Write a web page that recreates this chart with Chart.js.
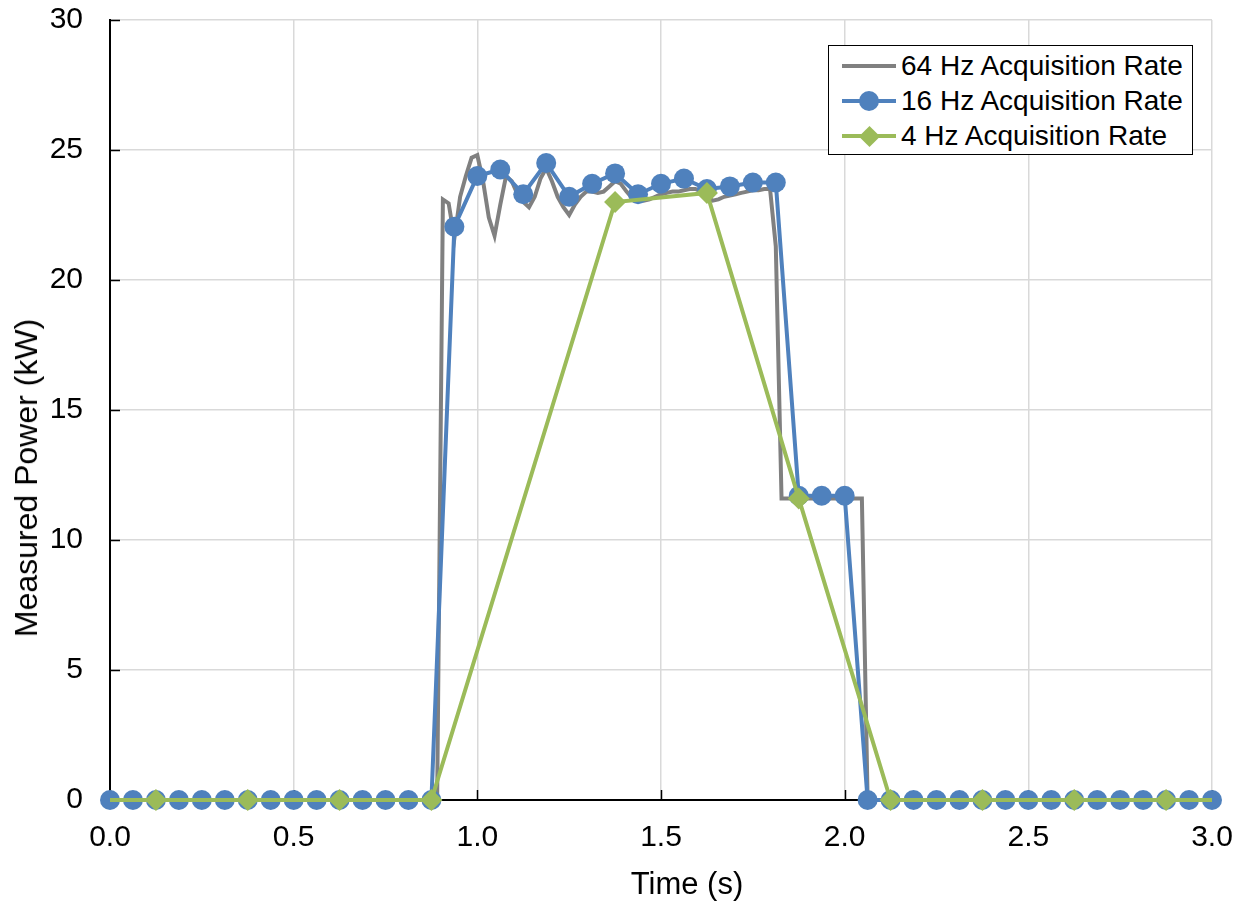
<!DOCTYPE html>
<html>
<head>
<meta charset="utf-8">
<script src="https://cdn.jsdelivr.net/npm/chart.js@4.4.1/dist/chart.umd.min.js"></script>
<style>
  html, body { margin: 0; padding: 0; background: #fff; }
  #wrap { position: relative; width: 1244px; height: 904px; font-family: 'Liberation Sans', Arial, sans-serif; color: #000; }
  canvas { display: block; }
  #legend {
    position: absolute; left: 828px; top: 45px; width: 363px; height: 108px;
    border: 1.5px solid #000; background: #fff; font-size: 28px;
  }
  .row { position: absolute; left: 0; height: 32px; width: 100%; }
  .row .ln { position: absolute; left: 13px; width: 54px; height: 4px; top: 14px; }
  .row .mk { position: absolute; }
  .row .tx { position: absolute; left: 72px; top: 0; line-height: 32px; white-space: nowrap; }
  .axtitle { position: absolute; font-size: 31px; white-space: nowrap; line-height: 34px; }
  #xtitle { left: 687px; top: 867px; transform: translateX(-50%); }
  #ytitle { left: 26px; top: 478px; font-size: 32px; transform: translate(-50%, -50%) rotate(-90deg); }
</style>
</head>
<body>
<div id="wrap">
  <canvas id="c" width="1244" height="904"></canvas>
  <div id="xtitle" class="axtitle">Time (s)</div>
  <div id="ytitle" class="axtitle">Measured Power (kW)</div>
  <div id="legend">
    <div class="row" style="top:4px"><div class="ln" style="background:#808080"></div><div class="tx">64 Hz Acquisition Rate</div></div>
    <div class="row" style="top:39px"><div class="ln" style="background:#4f81bd"></div>
      <div class="mk" style="left:30px;top:6px;width:20px;height:20px;border-radius:50%;background:#4f81bd"></div>
      <div class="tx">16 Hz Acquisition Rate</div></div>
    <div class="row" style="top:74px"><div class="ln" style="background:#9bbb59"></div>
      <div class="mk" style="left:33px;top:9px;width:15px;height:15px;transform:rotate(45deg);background:#9bbb59"></div>
      <div class="tx">4 Hz Acquisition Rate</div></div>
  </div>
</div>
<script>
// ---- Data ----
const seriesNames = ['64 Hz Acquisition Rate', '16 Hz Acquisition Rate', '4 Hz Acquisition Rate'];
const xTickLabels = ['0.0', '0.5', '1.0', '1.5', '2.0', '2.5', '3.0'];
const yTickLabels = ['0', '5', '10', '15', '20', '25', '30'];

// 64 Hz: samples from t = 0.875 s (1/64 s spacing); before and after are zero
const t64Start = 0.875;
const power64 = [
  0, 0, 23.1, 22.95, 21.6, 23.2, 24.0, 24.7, 24.8, 23.8, 22.4, 21.7,
  22.9, 24.0, 23.8, 23.3, 23.0, 22.8, 23.2, 23.9, 24.3, 23.8, 23.2, 22.8,
  22.5, 22.9, 23.2, 23.4, 23.4, 23.35, 23.4, 23.6, 23.8, 23.7, 23.4, 23.15,
  23.1, 23.05, 23.1, 23.2, 23.3, 23.35, 23.4, 23.4, 23.45, 23.5, 23.5, 23.4,
  23.2, 23.05, 23.1, 23.2, 23.25, 23.3, 23.35, 23.4, 23.45, 23.45, 23.5, 23.5,
  21.3, 11.6, 11.6, 11.6, 11.6, 11.6, 11.6, 11.6, 11.6, 11.6, 11.6, 11.6,
  11.6, 11.6, 11.6, 11.6, 0
];
const edge64Times = [0, 3.0];
const edge64Values = [0, 0];

// 16 Hz: samples every 1/16 s from 0 to 3 s
const power16 = [
  0, 0, 0, 0, 0, 0, 0, 0, 0, 0, 0, 0, 0, 0, 0,
  22.05, 24.0, 24.25, 23.3, 24.5, 23.2, 23.7, 24.1, 23.3, 23.7, 23.9, 23.5,
  23.6, 23.75, 23.75, 11.7, 11.7, 11.7, 0,
  0, 0, 0, 0, 0, 0, 0, 0, 0, 0, 0, 0, 0, 0, 0
];

// 4 Hz
const time4 = [0, 0.125, 0.375, 0.625, 0.875, 1.375, 1.625, 1.875, 2.125, 2.375, 2.625, 2.875, 3.0];
const power4 = [0, 0, 0, 0, 0, 23.0, 23.35, 11.6, 0, 0, 0, 0, 0];

// ---- Build datasets ----
const data64 = [{x: edge64Times[0], y: edge64Values[0]}]
  .concat(power64.map((v, i) => ({x: t64Start + i / 64, y: v})))
  .concat([{x: edge64Times[1], y: edge64Values[1]}]);
const data16 = power16.map((v, i) => ({x: i / 16, y: v}));
const data4 = time4.map((t, i) => ({x: t, y: power4[i]}));

const BLACK = '#000';
const insideTicks = {
  id: 'insideTicks',
  beforeDatasetsDraw(chart) {
    const {ctx, chartArea: a, scales: {x, y}} = chart;
    ctx.save();
    ctx.strokeStyle = BLACK;
    ctx.lineWidth = 1.5;
    ctx.beginPath();
    x.ticks.forEach(t => {
      const px = Math.round(x.getPixelForValue(t.value)) + 0.5;
      ctx.moveTo(px, a.bottom); ctx.lineTo(px, a.bottom - 10);
    });
    y.ticks.forEach(t => {
      const py = Math.round(y.getPixelForValue(t.value)) + 0.5;
      ctx.moveTo(a.left, py); ctx.lineTo(a.left + 10, py);
    });
    ctx.stroke();
    ctx.restore();
  }
};

Chart.defaults.font.family = "'Liberation Sans', Arial, sans-serif";
Chart.defaults.color = BLACK;

new Chart(document.getElementById('c'), {
  type: 'line',
  data: {
    datasets: [
      { label: seriesNames[0], data: data64, borderColor: '#808080', backgroundColor: '#808080',
        borderWidth: 4, pointRadius: 0, pointHoverRadius: 0, tension: 0, order: 3, clip: false },
      { label: seriesNames[1], data: data16, borderColor: '#4f81bd', backgroundColor: '#4f81bd',
        borderWidth: 4, pointRadius: 10, pointBorderWidth: 0, pointStyle: 'circle', tension: 0, order: 2, clip: false },
      { label: seriesNames[2], data: data4, borderColor: '#9bbb59', backgroundColor: '#9bbb59',
        borderWidth: 4, pointStyle: 'rectRot', pointBorderWidth: 0,
        pointRadius: ctx => (ctx.dataIndex === 0 || ctx.dataIndex === time4.length - 1) ? 0 : 11,
        tension: 0, order: 1, clip: false }
    ]
  },
  options: {
    responsive: false,
    animation: false,
    events: [],
    layout: { padding: { top: 20, right: 32, left: 0, bottom: 0 } },
    plugins: { legend: { display: false }, tooltip: { enabled: false } },
    scales: {
      x: {
        type: 'linear', min: 0, max: 3,
        afterFit: s => { s.height = 104; s.paddingLeft = 0; s.paddingRight = 0; },
        ticks: { stepSize: 0.5, padding: 20, font: { size: 30 }, color: BLACK,
                 callback: (v, i) => xTickLabels[i] },
        grid: { color: '#d9d9d9', lineWidth: 1.5, drawTicks: false },
        border: { display: true, color: BLACK, width: 2 },
        title: { display: false }
      },
      y: {
        min: 0, max: 30,
        afterFit: s => { s.width = 110; s.paddingTop = 0; s.paddingBottom = 0; },
        ticks: { stepSize: 5, padding: 27, font: { size: 30 }, color: BLACK,
                 callback: (v, i) => yTickLabels[i] },
        grid: { color: '#d9d9d9', lineWidth: 1.5, drawTicks: false },
        border: { display: true, color: BLACK, width: 2 },
        title: { display: false }
      }
    }
  },
  plugins: [insideTicks]
});
</script>
</body>
</html>
